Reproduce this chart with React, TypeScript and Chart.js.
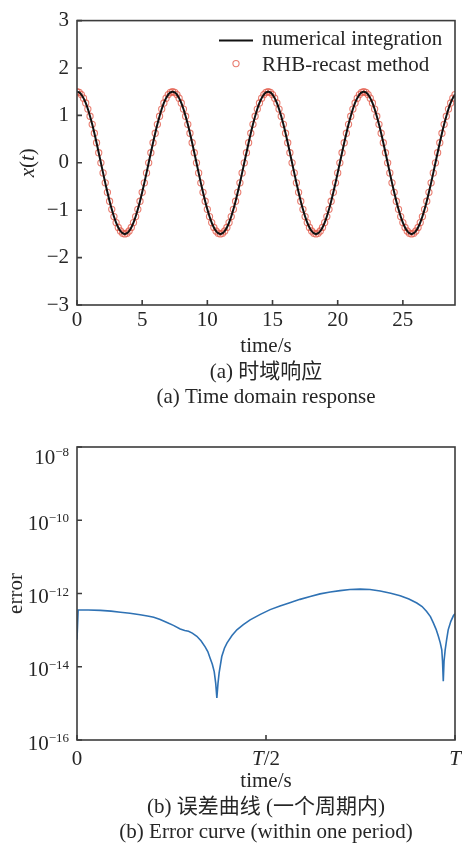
import React, { useEffect, useRef } from 'react';
import { Chart, registerables } from 'chart.js';

Chart.register(...registerables);

// ---------- data: (a) time domain response ----------
const SAMPLE_STEP = 1 / 6; // s between stored samples
const RESPONSE_X = [
  1.5, 1.485, 1.439, 1.364, 1.262, 1.134, 0.982, 0.811, 0.623, 0.423, 0.213, 0,
  -0.213, -0.423, -0.623, -0.811, -0.982, -1.134, -1.262, -1.364, -1.439, -1.485, -1.5,
  -1.485, -1.439, -1.364, -1.262, -1.134, -0.982, -0.811, -0.623, -0.423, -0.213, 0,
  0.213, 0.423, 0.623, 0.811, 0.982, 1.134, 1.262, 1.364, 1.439, 1.485,
  1.5, 1.485, 1.439, 1.364, 1.262, 1.134, 0.982, 0.811, 0.623, 0.423, 0.213, 0,
  -0.213, -0.423, -0.623, -0.811, -0.982, -1.134, -1.262, -1.364, -1.439, -1.485, -1.5,
  -1.485, -1.439, -1.364, -1.262, -1.134, -0.982, -0.811, -0.623, -0.423, -0.213, 0,
  0.213, 0.423, 0.623, 0.811, 0.982, 1.134, 1.262, 1.364, 1.439, 1.485,
  1.5, 1.485, 1.439, 1.364, 1.262, 1.134, 0.982, 0.811, 0.623, 0.423, 0.213, 0,
  -0.213, -0.423, -0.623, -0.811, -0.982, -1.134, -1.262, -1.364, -1.439, -1.485, -1.5,
  -1.485, -1.439, -1.364, -1.262, -1.134, -0.982, -0.811, -0.623, -0.423, -0.213, 0,
  0.213, 0.423, 0.623, 0.811, 0.982, 1.134, 1.262, 1.364, 1.439, 1.485,
  1.5, 1.485, 1.439, 1.364, 1.262, 1.134, 0.982, 0.811, 0.623, 0.423, 0.213, 0,
  -0.213, -0.423, -0.623, -0.811, -0.982, -1.134, -1.262, -1.364, -1.439, -1.485, -1.5,
  -1.485, -1.439, -1.364, -1.262, -1.134, -0.982, -0.811, -0.623, -0.423, -0.213, 0,
  0.213, 0.423, 0.623, 0.811, 0.982, 1.134, 1.262, 1.364, 1.439,
];
const TIME_TICKS = [0, 5, 10, 15, 20, 25];
const RESPONSE_TICKS = [-3, -2, -1, 0, 1, 2, 3];
const TIME_MAX = 29;
const SERIES_NAMES = ['numerical integration', 'RHB-recast method'];

// ---------- data: (b) error curve over one period ----------
const ERR_T = [
  0, 0.003, 0.03, 0.062, 0.09, 0.115, 0.14, 0.167, 0.19, 0.203, 0.22, 0.238, 0.255, 0.273,
  0.285, 0.295, 0.305, 0.317, 0.328, 0.339, 0.346, 0.352, 0.358, 0.363, 0.367, 0.37, 0.373,
  0.376, 0.383, 0.39, 0.397, 0.41, 0.423, 0.44, 0.458, 0.485, 0.511, 0.537, 0.563, 0.59,
  0.617, 0.643, 0.67, 0.696, 0.722, 0.749, 0.775, 0.802, 0.83, 0.855, 0.878, 0.899, 0.913,
  0.925, 0.935, 0.943, 0.95, 0.956, 0.961, 0.965, 0.967, 0.969, 0.971, 0.974, 0.978, 0.982,
  0.989, 0.996, 1.0,
];
const ERR_VALUES = [
  5.5e-14, 3.55e-13, 3.55e-13, 3.47e-13, 3.31e-13, 3.09e-13, 2.88e-13, 2.63e-13, 2.4e-13,
  2.24e-13, 1.95e-13, 1.62e-13, 1.35e-13, 1.07e-13,
  9.8e-14, 9.3e-14, 8.3e-14, 6.8e-14, 5.1e-14, 3.5e-14, 2.6e-14, 1.74e-14, 1.17e-14, 7.4e-15,
  3.5e-15, 1.4e-15, 3.5e-15,
  6.8e-15, 1.9e-14, 3.2e-14, 4.5e-14, 7.1e-14, 1.02e-13, 1.41e-13, 1.91e-13, 2.69e-13,
  3.63e-13, 4.57e-13, 5.62e-13, 6.92e-13,
  8.32e-13, 9.77e-13, 1.1e-12, 1.2e-12, 1.29e-12, 1.32e-12, 1.29e-12, 1.17e-12, 1.02e-12,
  8.7e-13, 7.1e-13, 5.5e-13, 4.4e-13,
  3.24e-13, 2.34e-13, 1.55e-13, 1.05e-13, 6.8e-14, 4.5e-14, 2.9e-14, 1.41e-14, 4.0e-15,
  1.41e-14, 2.9e-14, 5.6e-14, 1.02e-13,
  1.74e-13, 2.5e-13, 2.8e-13,
];
const ERR_Y_TICKS = [1e-16, 1e-14, 1e-12, 1e-10, 1e-8];
const ERR_Y_EXPONENTS = ['\u221216', '\u221214', '\u221212', '\u221210', '\u22128'];
const ERR_X_TICKS = [0, 0.5, 1];
const ERR_X_LABELS = ['0', 'T/2', 'T'];

// ---------- texts ----------
const TXT_A_XLABEL = 'time/s';
const TXT_A_CAPTION_ZH = '(a) 时域响应';
const TXT_A_CAPTION_EN = '(a) Time domain response';
const TXT_B_XLABEL = 'time/s';
const TXT_B_YLABEL = 'error';
const TXT_B_CAPTION_ZH = '(b) 误差曲线 (一个周期内)';
const TXT_B_CAPTION_EN = '(b) Error curve (within one period)';

// ---------- styles ----------
const FAMILY = "'Liberation Serif', 'Times New Roman', 'Noto Sans CJK SC', serif";
const TEXT_COLOR = '#262626';
const AXIS_COLOR = '#3c3c3c';
const FONT_SIZE = 21;
const TICK_LEN = 5;
const MARKER_COLOR = 'rgba(228, 92, 76, 0.8)';

type Run = { text: string; italic?: boolean; size?: number; dy?: number };

function fontOf(r: Run) {
  return `${r.italic ? 'italic ' : ''}${r.size || FONT_SIZE}px ${FAMILY}`;
}

function drawRuns(
  ctx: CanvasRenderingContext2D,
  runs: Run[],
  x: number,
  y: number,
  align: 'left' | 'center' | 'right',
) {
  const widths = runs.map((r) => {
    ctx.font = fontOf(r);
    return ctx.measureText(r.text).width;
  });
  const total = widths.reduce((a, b) => a + b, 0);
  let cx = align === 'left' ? x : align === 'center' ? x - total / 2 : x - total;
  ctx.textAlign = 'left';
  ctx.textBaseline = 'alphabetic';
  runs.forEach((r, i) => {
    ctx.font = fontOf(r);
    ctx.fillText(r.text, cx, y + (r.dy || 0));
    cx += widths[i];
  });
}

function drawFrame(chart: any) {
  const { ctx, chartArea: a, scales } = chart;
  ctx.save();
  ctx.strokeStyle = AXIS_COLOR;
  ctx.lineWidth = 1.6;
  ctx.strokeRect(a.left, a.top, a.right - a.left, a.bottom - a.top);
  ctx.beginPath();
  scales.x.ticks.forEach((t: any) => {
    const px = scales.x.getPixelForValue(t.value);
    ctx.moveTo(px, a.bottom);
    ctx.lineTo(px, a.bottom - TICK_LEN);
  });
  scales.y.ticks.forEach((t: any) => {
    const py = scales.y.getPixelForValue(t.value);
    ctx.moveTo(a.left, py);
    ctx.lineTo(a.left + TICK_LEN, py);
  });
  ctx.stroke();
  ctx.restore();
}

function italicizeT(label: string): Run[] {
  const runs: Run[] = [];
  for (const ch of label) runs.push({ text: ch, italic: ch === 'T' });
  return runs;
}

export default function App() {
  const ref1 = useRef<HTMLCanvasElement>(null);
  const ref2 = useRef<HTMLCanvasElement>(null);

  useEffect(() => {
    const pts = RESPONSE_X.map((v, i) => ({ x: i * SAMPLE_STEP, y: v }));

    const plugin1 = {
      id: 'decorA',
      afterDraw(chart: any) {
        drawFrame(chart);
        const { ctx, chartArea: a } = chart;
        const midX = (a.left + a.right) / 2;
        ctx.save();
        ctx.fillStyle = TEXT_COLOR;
        // legend
        ctx.strokeStyle = '#111';
        ctx.lineWidth = 2;
        ctx.beginPath();
        ctx.moveTo(a.right - 236, a.top + 20);
        ctx.lineTo(a.right - 202, a.top + 20);
        ctx.stroke();
        ctx.strokeStyle = MARKER_COLOR;
        ctx.lineWidth = 1.1;
        ctx.beginPath();
        ctx.arc(a.right - 219, a.top + 43, 3.1, 0, Math.PI * 2);
        ctx.stroke();
        drawRuns(ctx, [{ text: SERIES_NAMES[0] }], a.right - 193, a.top + 24.5, 'left');
        drawRuns(ctx, [{ text: SERIES_NAMES[1] }], a.right - 193, a.top + 50.5, 'left');
        // axis titles
        ctx.save();
        ctx.translate(34, (a.top + a.bottom) / 2);
        ctx.rotate(-Math.PI / 2);
        drawRuns(
          ctx,
          [{ text: 'x', italic: true }, { text: '(' }, { text: 't', italic: true }, { text: ')' }],
          0,
          0,
          'center',
        );
        ctx.restore();
        drawRuns(ctx, [{ text: TXT_A_XLABEL }], midX, a.bottom + 46.5, 'center');
        drawRuns(ctx, [{ text: TXT_A_CAPTION_ZH }], midX, a.bottom + 73, 'center');
        drawRuns(ctx, [{ text: TXT_A_CAPTION_EN }], midX, a.bottom + 98, 'center');
        ctx.restore();
      },
    };

    const c1 = new Chart(ref1.current!, {
      type: 'line',
      data: {
        datasets: [
          {
            label: SERIES_NAMES[0],
            data: pts,
            borderColor: '#111111',
            borderWidth: 2,
            pointRadius: 0,
            tension: 0.3,
            fill: false,
          },
          {
            label: SERIES_NAMES[1],
            data: pts,
            showLine: false,
            pointRadius: 3.1,
            pointBorderWidth: 1.1,
            pointBorderColor: MARKER_COLOR,
            pointBackgroundColor: 'rgba(0,0,0,0)',
          },
        ],
      },
      options: {
        animation: false,
        responsive: false,
        events: [],
        layout: { padding: { top: 13, right: 7, left: 0, bottom: 85 } },
        plugins: { legend: { display: false }, tooltip: { enabled: false } },
        scales: {
          x: {
            type: 'linear',
            min: 0,
            max: TIME_MAX,
            grid: { display: false, drawTicks: false },
            border: { display: false },
            afterBuildTicks: (s: any) => {
              s.ticks = TIME_TICKS.map((value) => ({ value }));
            },
            afterFit: (s: any) => {
              s.height = 30;
            },
            ticks: {
              padding: 3,
              maxRotation: 0,
              color: TEXT_COLOR,
              font: { family: FAMILY, size: FONT_SIZE },
            },
          },
          y: {
            type: 'linear',
            min: -3,
            max: 3,
            grid: { display: false, drawTicks: false },
            border: { display: false },
            afterBuildTicks: (s: any) => {
              s.ticks = RESPONSE_TICKS.map((value) => ({ value }));
            },
            afterFit: (s: any) => {
              s.width = 77;
            },
            ticks: {
              padding: 8,
              color: TEXT_COLOR,
              font: { family: FAMILY, size: FONT_SIZE },
              callback: (v: any) => String(v).replace('-', '\u2212'),
            },
          },
        },
      },
      plugins: [plugin1],
    });

    const plugin2 = {
      id: 'decorB',
      afterDraw(chart: any) {
        drawFrame(chart);
        const { ctx, chartArea: a, scales } = chart;
        const midX = (a.left + a.right) / 2;
        ctx.save();
        ctx.fillStyle = TEXT_COLOR;
        // y tick labels 10^n
        ERR_Y_TICKS.forEach((v, i) => {
          const py = scales.y.getPixelForValue(v);
          const shift = i === ERR_Y_TICKS.length - 1 ? 7 : 0;
          drawRuns(
            ctx,
            [{ text: '10' }, { text: ERR_Y_EXPONENTS[i], size: 13, dy: -7.5 }],
            a.left - 8,
            py + 9.5 + shift,
            'right',
          );
        });
        // x tick labels
        ERR_X_TICKS.forEach((v, i) => {
          const px = scales.x.getPixelForValue(v);
          drawRuns(ctx, italicizeT(ERR_X_LABELS[i]), px, a.bottom + 25, 'center');
        });
        ctx.save();
        ctx.translate(21.5, (a.top + a.bottom) / 2);
        ctx.rotate(-Math.PI / 2);
        drawRuns(ctx, [{ text: TXT_B_YLABEL }], 0, 0, 'center');
        ctx.restore();
        drawRuns(ctx, [{ text: TXT_B_XLABEL }], midX, a.bottom + 46.5, 'center');
        drawRuns(ctx, [{ text: TXT_B_CAPTION_ZH }], midX, a.bottom + 73, 'center');
        drawRuns(ctx, [{ text: TXT_B_CAPTION_EN }], midX, a.bottom + 97.5, 'center');
        ctx.restore();
      },
    };

    const c2 = new Chart(ref2.current!, {
      type: 'line',
      data: {
        datasets: [
          {
            label: 'error',
            data: ERR_T.map((t, i) => ({ x: t, y: ERR_VALUES[i] })),
            borderColor: '#2f72b4',
            borderWidth: 1.6,
            pointRadius: 0,
            tension: 0,
            fill: false,
          },
        ],
      },
      options: {
        animation: false,
        responsive: false,
        events: [],
        layout: { padding: { top: 27, right: 7, left: 0, bottom: 77 } },
        plugins: { legend: { display: false }, tooltip: { enabled: false } },
        scales: {
          x: {
            type: 'linear',
            min: 0,
            max: 1,
            grid: { display: false, drawTicks: false },
            border: { display: false },
            afterBuildTicks: (s: any) => {
              s.ticks = ERR_X_TICKS.map((value) => ({ value }));
            },
            afterFit: (s: any) => {
              s.height = 30;
            },
            ticks: { display: false },
          },
          y: {
            type: 'logarithmic',
            min: 1e-16,
            max: 1e-8,
            grid: { display: false, drawTicks: false },
            border: { display: false },
            afterBuildTicks: (s: any) => {
              s.ticks = ERR_Y_TICKS.map((value) => ({ value }));
            },
            afterFit: (s: any) => {
              s.width = 77;
            },
            ticks: { display: false },
          },
        },
      },
      plugins: [plugin2],
    });

    return () => {
      c1.destroy();
      c2.destroy();
    };
  }, []);

  return (
    <div style={{ position: 'absolute', left: 0, top: 0, width: 462, height: 847, background: '#fff' }}>
      <canvas ref={ref1} width={462} height={420} style={{ position: 'absolute', left: 0, top: 0 }} />
      <canvas ref={ref2} width={462} height={427} style={{ position: 'absolute', left: 0, top: 420 }} />
    </div>
  );
}
